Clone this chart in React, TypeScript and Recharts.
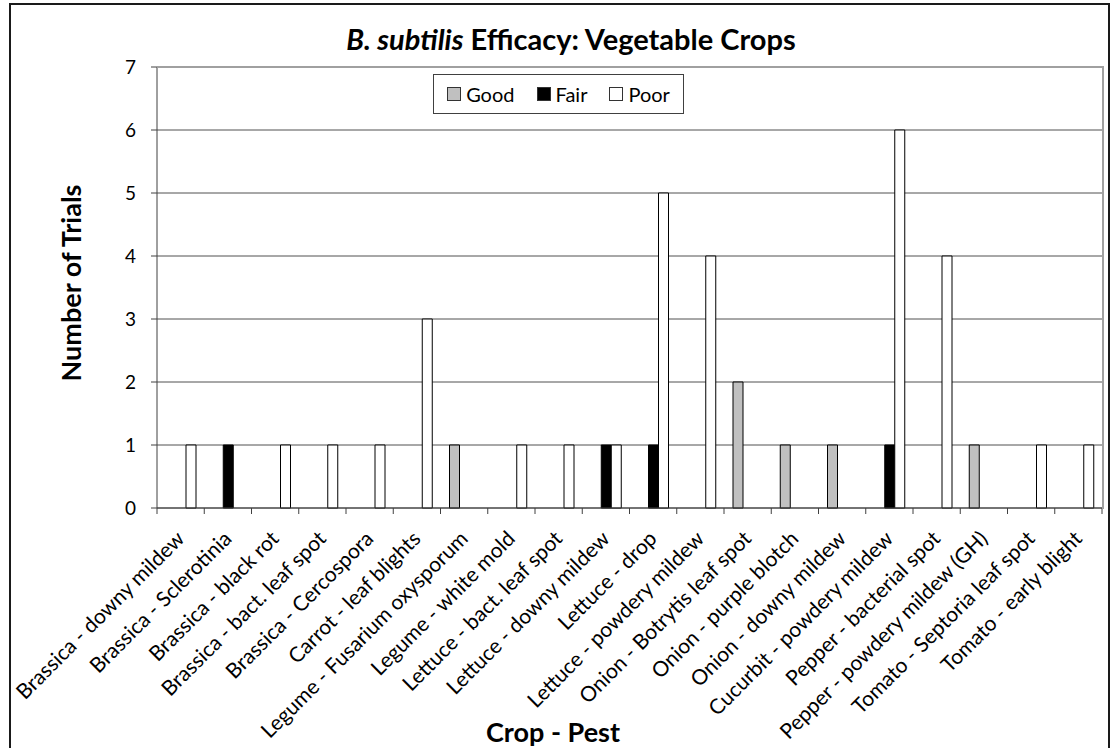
import { BarChart, Bar, XAxis, YAxis, CartesianGrid } from "recharts";

// crop - pest combinations, in the order they appear on the x axis
const categories = [
  "Brassica - downy mildew",
  "Brassica - Sclerotinia",
  "Brassica - black rot",
  "Brassica - bact. leaf spot",
  "Brassica - Cercospora",
  "Carrot - leaf blights",
  "Legume - Fusarium oxysporum",
  "Legume - white mold",
  "Lettuce - bact. leaf spot",
  "Lettuce - downy mildew",
  "Lettuce - drop",
  "Lettuce - powdery mildew",
  "Onion - Botrytis leaf spot",
  "Onion - purple blotch",
  "Onion - downy mildew",
  "Cucurbit - powdery mildew",
  "Pepper - bacterial spot",
  "Pepper - powdery mildew (GH)",
  "Tomato - Septoria leaf spot",
  "Tomato - early blight",
];

const good = [0, 0, 0, 0, 0, 0, 1, 0, 0, 0, 0, 0, 2, 1, 1, 0, 0, 1, 0, 0];
const fair = [0, 1, 0, 0, 0, 0, 0, 0, 0, 1, 1, 0, 0, 0, 0, 1, 0, 0, 0, 0];
const poor = [1, 0, 1, 1, 1, 3, 0, 1, 1, 1, 5, 4, 0, 0, 0, 6, 4, 0, 1, 1];

const yTicks = [0, 1, 2, 3, 4, 5, 6, 7];

const series = [
  { key: "Good", fill: "#c0c0c0" },
  { key: "Fair", fill: "#000000" },
  { key: "Poor", fill: "#ffffff" },
];

const data = categories.map((name, i) => ({
  name,
  Good: good[i],
  Fair: fair[i],
  Poor: poor[i],
}));

const WIDTH = 1114;
const HEIGHT = 748;
const MARGIN = { top: 67, right: 12, bottom: 0, left: 10 };
const Y_AXIS_W = 147;
const X_AXIS_H = 240;
const PLOT_LEFT = MARGIN.left + Y_AXIS_W;
const PLOT_RIGHT = WIDTH - MARGIN.right;
const PLOT_BOTTOM = HEIGHT - MARGIN.bottom - X_AXIS_H;
const BAND = (PLOT_RIGHT - PLOT_LEFT) / categories.length;
const FONT = "Lato, 'Liberation Sans', sans-serif";

function CategoryTick(props: any) {
  const { x, payload, index } = props;
  const half = BAND / 2;
  const tx = x + 5;
  const ty = PLOT_BOTTOM + 32;
  return (
    <g>
      <line x1={x - half} x2={x - half} y1={PLOT_BOTTOM} y2={PLOT_BOTTOM + 6} stroke="#404040" />
      {index === categories.length - 1 && (
        <line x1={x + half} x2={x + half} y1={PLOT_BOTTOM} y2={PLOT_BOTTOM + 6} stroke="#404040" />
      )}
      <text
        x={tx}
        y={ty}
        transform={`rotate(-45 ${tx} ${ty})`}
        textAnchor="end"
        fontSize={21}
        fontFamily={FONT}
        fill="#000"
      >
        {payload.value}
      </text>
    </g>
  );
}

export default function App() {
  return (
    <div
      style={{
        position: "absolute",
        left: 0,
        top: 0,
        width: WIDTH,
        height: HEIGHT,
        overflow: "hidden",
        background: "#fff",
        fontFamily: FONT,
      }}
    >
      <BarChart
        width={WIDTH}
        height={HEIGHT}
        data={data}
        margin={MARGIN}
        barSize={10}
        barGap={0}
      >
        <CartesianGrid vertical={false} stroke="#505050" />
        <XAxis
          dataKey="name"
          interval={0}
          height={X_AXIS_H}
          axisLine={{ stroke: "#404040" }}
          tickLine={false}
          tick={<CategoryTick />}
        />
        <YAxis
          width={Y_AXIS_W}
          domain={[0, 7]}
          ticks={yTicks}
          interval={0}
          axisLine={{ stroke: "#404040" }}
          tickLine={{ stroke: "#404040" }}
          tickSize={6}
          tickMargin={15}
          tick={{ fontSize: 19, fill: "#000", fontFamily: FONT }}
        />
        {series.map((s) => (
          <Bar
            key={s.key}
            dataKey={s.key}
            fill={s.fill}
            stroke="#000"
            strokeWidth={1}
            isAnimationActive={false}
          />
        ))}
      </BarChart>

      {/* plot area border (top and right) */}
      <div
        style={{
          position: "absolute",
          left: PLOT_LEFT,
          top: MARGIN.top - 1,
          width: PLOT_RIGHT - PLOT_LEFT,
          height: PLOT_BOTTOM - MARGIN.top,
          borderTop: "2px solid #a0a0a0",
          borderRight: "2px solid #a0a0a0",
          pointerEvents: "none",
        }}
      />

      {/* chart border */}
      <div
        style={{
          position: "absolute",
          left: 9,
          top: 3,
          width: 1097,
          height: 780,
          border: "2px solid #1a1a1a",
          pointerEvents: "none",
        }}
      />

      <div
        style={{
          position: "absolute",
          left: 571,
          top: 38,
          transform: "translate(-50%, -50%)",
          whiteSpace: "nowrap",
          fontSize: 29,
          fontWeight: 700,
          color: "#000",
        }}
      >
        <i>B. subtilis</i> Efficacy: Vegetable Crops
      </div>

      <div
        style={{
          position: "absolute",
          left: 433,
          top: 74,
          width: 249,
          height: 38,
          border: "1px solid #404040",
          display: "flex",
          alignItems: "center",
          justifyContent: "center",
          gap: 22,
          fontSize: 20,
          background: "#fff",
        }}
      >
        {series.map((s) => (
          <span key={s.key} style={{ display: "flex", alignItems: "center", gap: 5 }}>
            <span
              style={{
                display: "inline-block",
                width: 12,
                height: 12,
                background: s.fill,
                border: "1px solid #333",
              }}
            />
            {s.key}
          </span>
        ))}
      </div>

      <div
        style={{
          position: "absolute",
          left: 70,
          top: 283,
          transform: "translate(-50%, -50%) rotate(-90deg)",
          fontSize: 27,
          fontWeight: 700,
          whiteSpace: "nowrap",
          color: "#000",
        }}
      >
        Number of Trials
      </div>

      <div
        style={{
          position: "absolute",
          left: 553,
          top: 731,
          transform: "translate(-50%, -50%)",
          fontSize: 27,
          fontWeight: 700,
          whiteSpace: "nowrap",
          color: "#000",
        }}
      >
        Crop - Pest
      </div>
    </div>
  );
}
